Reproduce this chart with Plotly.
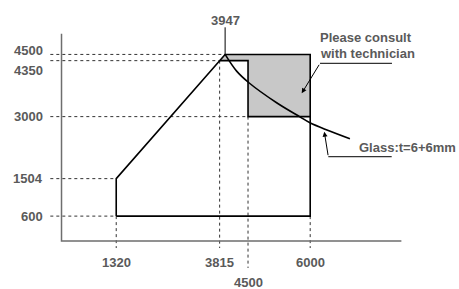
import plotly.graph_objects as go

# ---- data ----
x_ticks = [1320, 3815, 4500, 6000]
y_ticks = [600, 1504, 3000, 4350, 4500]
peak_x = 3947
peak_y = 4500

outline_x = [1320, 1320, 3947, 6000, 6000, 1320]
outline_y = [600, 1504, 4500, 4500, 600, 600]

step_x = [3815, 4500, 4500, 6000]
step_y = [4350, 4350, 3000, 3000]

consult_x = [3815, 3947, 6000, 6000, 4500, 4500, 3815]
consult_y = [4350, 4500, 4500, 3000, 3000, 4350, 4350]

glass_x = [3947, 4225, 4521, 5190, 5752, 5993, 6958]
glass_y = [4500, 4097, 3817, 3335, 2995, 2853, 2467]

# guide line ends
h_guide_end = {4500: 3947, 4350: 3815, 3000: 4500, 1504: 1320, 600: 1320}
v_guide_start = {1320: 600, 3815: 4350, 4500: 3000, 6000: 600}

TXT = "#5a5a5a"
FONT = "Arial, Liberation Sans, Helvetica, sans-serif"

fig = go.Figure()

# gray "consult" zone
fig.add_trace(go.Scatter(x=consult_x, y=consult_y, mode="lines", fill="toself",
                         fillcolor="#c8c8c8", line=dict(width=0), hoverinfo="skip"))

# dotted guides
gx, gy = [], []
for yv, xe in h_guide_end.items():
    gx += [-270, xe, None]
    gy += [yv, yv, None]
for xv, ys in v_guide_start.items():
    yb = -650 if xv == 4500 else -170
    gx += [xv, xv, None]
    gy += [ys, yb, None]
fig.add_trace(go.Scatter(x=gx, y=gy, mode="lines",
                         line=dict(color="#333333", width=1, dash="dot"), hoverinfo="skip"))

# axes
fig.add_trace(go.Scatter(x=[0, 0, 8200], y=[5000, 0, 0], mode="lines",
                         line=dict(color="#6e6e6e", width=1.5), hoverinfo="skip"))

# outline and step
fig.add_trace(go.Scatter(x=outline_x, y=outline_y, mode="lines",
                         line=dict(color="black", width=1.6), hoverinfo="skip"))
fig.add_trace(go.Scatter(x=step_x, y=step_y, mode="lines",
                         line=dict(color="black", width=1.6), hoverinfo="skip"))
# glass curve
fig.add_trace(go.Scatter(x=glass_x, y=glass_y, mode="lines",
                         line=dict(color="black", width=1.6, shape="spline"), hoverinfo="skip"))

# peak marker line
fig.add_trace(go.Scatter(x=[peak_x, peak_x], y=[peak_y, 5154], mode="lines",
                         line=dict(color="black", width=1), hoverinfo="skip"))

# leader lines
fig.add_trace(go.Scatter(x=[7973, 6237], y=[4286, 4286], mode="lines",
                         line=dict(color="black", width=1), hoverinfo="skip"))
fig.add_trace(go.Scatter(x=[7966, 6437], y=[2033, 2033], mode="lines",
                         line=dict(color="black", width=1), hoverinfo="skip"))

ann = []
fnt = dict(family=FONT, size=13, color=TXT)
yshift = {4500: 4, 4350: -10}
for yv in y_ticks:
    ann.append(dict(x=0, y=yv, xref="x", yref="y", text=f"<b>{yv}</b>", showarrow=False,
                    xanchor="right", yanchor="middle", xshift=-17, yshift=yshift.get(yv, 0), font=fnt))
for xv in x_ticks:
    ann.append(dict(x=xv, y=0, xref="x", yref="y", text=f"<b>{xv}</b>", showarrow=False,
                    xanchor="center", yanchor="middle", yshift=-42 if xv == 4500 else -22, font=fnt))
ann.append(dict(x=peak_x, y=peak_y, xref="x", yref="y", text=f"<b>{peak_x}</b>", showarrow=False,
                xanchor="center", yanchor="middle", yshift=34, font=fnt))
ann.append(dict(x=6200, y=4900, xref="x", yref="y", text="<b>Please consult</b>", showarrow=False,
                xanchor="left", yanchor="middle", font=fnt))
ann.append(dict(x=6200, y=4530, xref="x", yref="y", text="<b>with technician</b>", showarrow=False,
                xanchor="left", yanchor="middle", font=fnt))
ann.append(dict(x=7121, y=2258, xref="x", yref="y", text="<b>Glass:t=6+6mm</b>", showarrow=False,
                xanchor="left", yanchor="middle", font=fnt))
# arrows
ann.append(dict(x=5795, y=3562, ax=6237, ay=4286, axref="x", ayref="y", xref="x", yref="y",
                text="", showarrow=True, arrowhead=2, arrowsize=1, arrowwidth=1, arrowcolor="black"))
ann.append(dict(x=6340, y=2636, ax=6437, ay=2033, axref="x", ayref="y", xref="x", yref="y",
                text="", showarrow=True, arrowhead=2, arrowsize=1, arrowwidth=1, arrowcolor="black"))

fig.update_layout(
    width=459, height=289, margin=dict(l=0, r=0, t=0, b=0),
    paper_bgcolor="white", plot_bgcolor="white", showlegend=False,
    xaxis=dict(range=[-1484, 9590], visible=False, fixedrange=True),
    yaxis=dict(range=[-1158, 5813], visible=False, fixedrange=True),
    annotations=ann,
)
fig.write_html("out.html", config={"displayModeBar": False},
               post_script="document.body.style.margin='0';document.body.style.overflow='hidden';")
